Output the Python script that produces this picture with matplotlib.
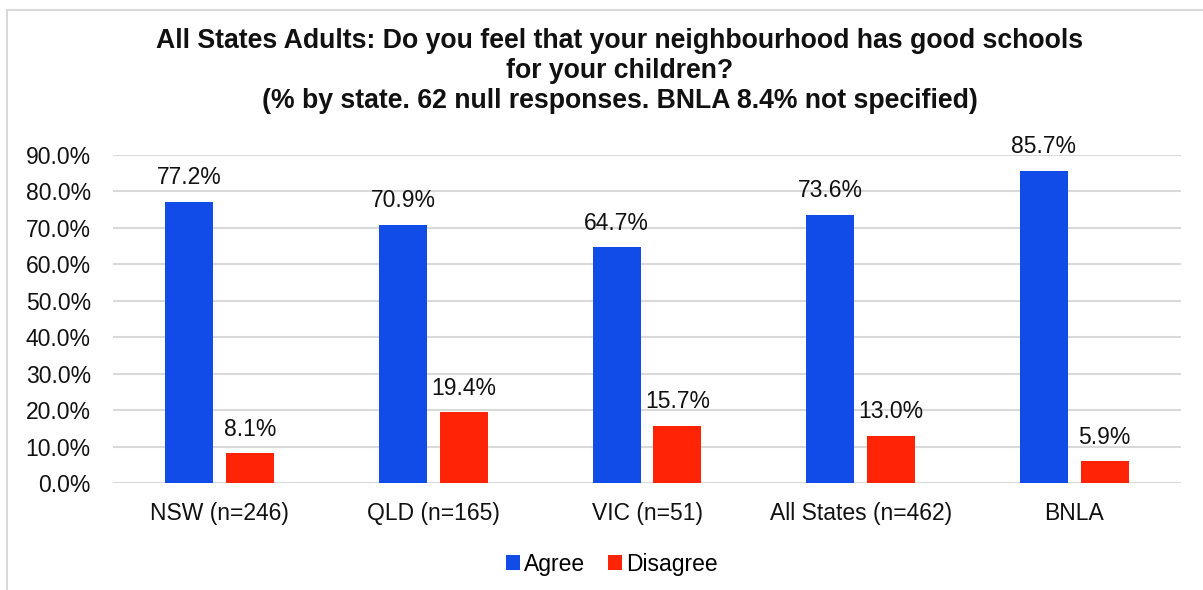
import matplotlib.pyplot as plt
import numpy as np
from matplotlib.ticker import FuncFormatter

plt.rcParams['font.family'] = ['Liberation Sans', 'DejaVu Sans']

# data
cats = ['NSW (n=246)', 'QLD (n=165)', 'VIC (n=51)', 'All States (n=462)', 'BNLA']
agree = [77.2, 70.9, 64.7, 73.6, 85.7]
disagree = [8.1, 19.4, 15.7, 13.0, 5.9]

blue = '#114BE8'
red = '#FF2405'

fig = plt.figure(figsize=(12.03, 5.9), dpi=100)
ax = fig.add_axes([113/1203, 107/590, (1181-113)/1203, (483-155)/590])

x = np.arange(len(cats))
w = 0.225
off = 0.1425
b1 = ax.bar(x - off, agree, w, color=blue, label='Agree', zorder=3)
b2 = ax.bar(x + off, disagree, w, color=red, label='Disagree', zorder=3)

for bars, vals in ((b1, agree), (b2, disagree)):
    for r, v in zip(bars, vals):
        ax.annotate('%.1f%%' % v, (r.get_x() + r.get_width()/2, v),
                    xytext=(0, 9), textcoords='offset points',
                    ha='center', va='bottom', fontsize=16.5, color='#111111')

ax.set_xlim(-0.5, 4.5)
ax.set_ylim(0, 90)
ax.set_yticks(np.arange(0, 91, 10))
ax.yaxis.set_major_formatter(FuncFormatter(lambda v, p: '%.1f%%' % v))
ax.set_xticks(x)
ax.set_xticklabels(cats)
ax.tick_params(axis='both', length=0, labelsize=16.5, colors='#111111')
ax.tick_params(axis='y', pad=16)
ax.tick_params(axis='x', pad=14)
ax.grid(axis='y', color='#D9D9D9', lw=1.5, zorder=0)
for s in ax.spines.values():
    s.set_visible(False)

fig.text(620/1203, 1 - 71/590,
         'All States Adults: Do you feel that your neighbourhood has good schools\n'
         'for your children?\n'
         '(% by state. 62 null responses. BNLA 8.4% not specified)',
         ha='center', va='center', fontsize=19.2, fontweight='bold',
         linespacing=1.2, color='#111111')

fig.legend(handles=[b1, b2], loc='center', bbox_to_anchor=(612/1203, 1 - 564/590),
           ncol=2, frameon=False, fontsize=16.5, handlelength=0.6, handleheight=0.6,
           handletextpad=0.2, columnspacing=1.0)

# chart border
fig.add_artist(plt.Line2D([7/1203, 7/1203], [0, 1 - 10/590], color='#D9D9D9', lw=1.5))
fig.add_artist(plt.Line2D([7/1203, 1], [1 - 10/590, 1 - 10/590], color='#D9D9D9', lw=1.5))

fig.savefig('out.png', dpi=100)
